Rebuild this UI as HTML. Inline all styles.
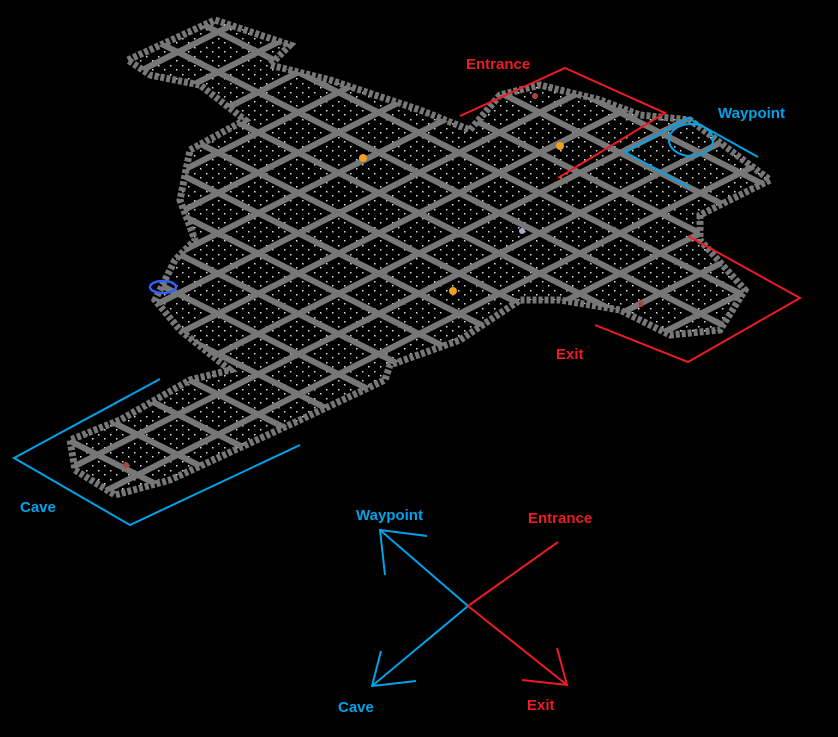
<!DOCTYPE html>
<html><head><style>
html,body{margin:0;padding:0;background:#000;}
svg{display:block;}
text{font-family:"Liberation Sans",sans-serif;font-weight:bold;font-size:15px;}
</style></head><body>
<svg width="838" height="737" viewBox="0 0 838 737" xmlns="http://www.w3.org/2000/svg">
<defs>
<pattern id="dots" width="12" height="9" patternUnits="userSpaceOnUse">
<rect width="12" height="9" fill="#000"/>
<rect x="2" y="2" width="1.5" height="1.5" fill="#ddd"/>
<rect x="8" y="6" width="1.5" height="1.5" fill="#ddd"/>
</pattern>
<pattern id="gridA" width="40" height="36" patternUnits="userSpaceOnUse" patternTransform="rotate(26.6)">
<rect x="0" y="0" width="40" height="6" fill="#777"/>
</pattern>
<pattern id="gridB" width="40" height="36" patternUnits="userSpaceOnUse" patternTransform="translate(0,17) rotate(-26.6)">
<rect x="0" y="0" width="40" height="6" fill="#777"/>
</pattern>
<clipPath id="map"><polygon points="128,60 215,20 290,45 270,65 330,80 420,110 470,130 500,95 540,85 600,100 640,115 690,120 770,180 700,215 700,240 745,290 720,330 670,335 620,310 560,300 520,300 460,340 390,365 385,380 300,420 170,480 115,495 75,470 70,440 120,420 190,380 230,370 180,330 155,300 175,260 195,240 180,200 190,150 245,120 200,85 150,75"/></clipPath>
</defs>
<g clip-path="url(#map)">
<rect width="838" height="737" fill="url(#dots)"/>
<rect width="838" height="737" fill="url(#gridA)"/>
<rect width="838" height="737" fill="url(#gridB)"/>
</g>
<polygon points="128,60 215,20 290,45 270,65 330,80 420,110 470,130 500,95 540,85 600,100 640,115 690,120 770,180 700,215 700,240 745,290 720,330 670,335 620,310 560,300 520,300 460,340 390,365 385,380 300,420 170,480 115,495 75,470 70,440 120,420 190,380 230,370 180,330 155,300 175,260 195,240 180,200 190,150 245,120 200,85 150,75" fill="none" stroke="#777" stroke-width="7" stroke-dasharray="4 2"/>
<circle cx="363" cy="158" r="4" fill="#f0a020"/>
<circle cx="560" cy="146" r="4" fill="#f0a020"/>
<circle cx="453" cy="291" r="4" fill="#f0a020"/>
<ellipse cx="163" cy="287" rx="13" ry="6" fill="none" stroke="#3060ff" stroke-width="2.5"/>
<circle cx="522" cy="231" r="3" fill="#aac"/>
<circle cx="535" cy="96" r="3" fill="#a44"/>
<circle cx="641" cy="304" r="3" fill="#a44"/>
<circle cx="126" cy="465" r="3" fill="#a44"/>
<g fill="none" stroke-width="2">
<polyline points="460,116 565,68 665,113 558,178" stroke="#ed1c24"/>
<polyline points="690,188 625,152 688,118 758,157" stroke="#00a2e8"/>
<ellipse cx="691" cy="140" rx="22" ry="16" stroke="#00a2e8"/>
<polyline points="688,236 800,298 688,362 595,325" stroke="#ed1c24"/>
<polyline points="160,379 14,458 130,525 300,445" stroke="#00a2e8"/>
<line x1="468" y1="606" x2="380" y2="530" stroke="#00a2e8"/>
<polyline points="427,536 380,530 385,575" stroke="#00a2e8"/>
<line x1="468" y1="606" x2="372" y2="686" stroke="#00a2e8"/>
<polyline points="381,651 372,686 416,681" stroke="#00a2e8"/>
<line x1="468" y1="606" x2="558" y2="542" stroke="#ed1c24"/>
<line x1="468" y1="606" x2="567" y2="685" stroke="#ed1c24"/>
<polyline points="557,648 567,685 522,680" stroke="#ed1c24"/>
</g>
<text x="466" y="69" fill="#ed1c24">Entrance</text>
<text x="718" y="118" fill="#00a2e8">Waypoint</text>
<text x="556" y="359" fill="#ed1c24">Exit</text>
<text x="20" y="512" fill="#00a2e8">Cave</text>
<text x="356" y="520" fill="#00a2e8">Waypoint</text>
<text x="528" y="523" fill="#ed1c24">Entrance</text>
<text x="338" y="712" fill="#00a2e8">Cave</text>
<text x="527" y="710" fill="#ed1c24">Exit</text>
</svg>
</body></html>
